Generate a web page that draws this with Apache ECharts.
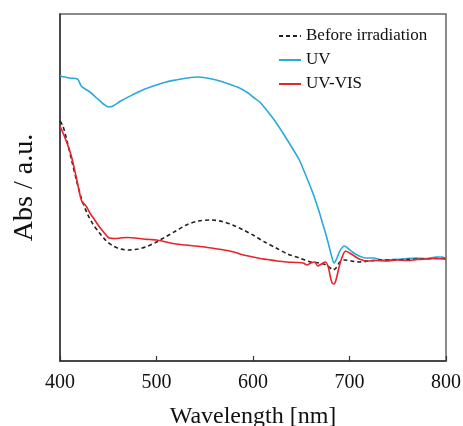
<!DOCTYPE html>
<html>
<head>
<meta charset="utf-8">
<script src="https://cdn.jsdelivr.net/npm/echarts@6/dist/echarts.min.js"></script>
<style>html,body{margin:0;padding:0;background:#fff}#c{width:463px;height:426px}</style>
</head>
<body>
<div id="c"></div>
<script>
const seriesNames = ['Before irradiation', 'UV', 'UV-VIS'];
const xTicks = [400, 500, 600, 700, 800];

const beforeNm = [400,403,407,412,417,422,428,434,441,448,455,463,472,481,490,500,510,520,531,543,557,568,579,590,600,612,624,636,648,660,669,676,680,683,686,690,695,702,710,720,731,745,760,775,790,800];
const beforeAbs = [240,235,221,201,181,163,148,137,128,120,115,112,111,112,114.5,119,124.5,130,136,140,141,139.5,136,131,126,119,113,107,103,99,98,96,93,91,93,99,101,100,99,100,101,101,101.5,102,102.5,102.5];

const uvNm = [400,410,418,420,422,426,431,438,445,450,455,463,475,488,500,510,520,532,543,552,562,575,586,595,600,607,614,622,631,640,648,655,662,668,672,676,679,682,684,687,690,693,695,698,703,710,717,725,734,745,755,769,780,790,796,800];
const uvAbs = [285,283,282,279,275,272,269,263,257,254,255,260,266,272,276,279,281,283,284,283,281,277,273,268,264,259,251,241,228,214,201,185,168,151,138,125,114,103,98,103,110,114,115,113,109,105,103,103,101,101.5,102,103,102.5,104,104,102.5];

const uvvisNm = [400,404,408,412,417,421,423,427,431,436,441,446,451,457,463,470,478,486,493,500,510,520,530,540,550,560,570,580,590,600,607,615,625,635,645,652,656,660,664,667,671,675,678,680,682,684,686,689,692,696,700,705,710,718,728,738,750,760,770,780,790,800];
const uvvisAbs = [235,226,216,204,183,165,159,155,148,141,134,128,123,122.5,123,123.5,123,122,121.5,121,119,117,116,115,114,112.5,111,109,106,104,102.5,101.5,100,99,98.5,98,96,98,99,95,97,99,94,85,78,77,81,93,103,110,108,105,102,100,100.5,100,101,100.5,101.5,102,102.5,102];

function zip(xs, ys) { return xs.map((x, i) => [x, ys[i]]); }

const font = "'Liberation Serif', 'Times New Roman', serif";
const chart = echarts.init(document.getElementById('c'), null, {renderer: 'canvas'});
chart.setOption({
  animation: false,
  backgroundColor: '#fff',
  grid: {left: 60, right: 17, top: 14, bottom: 65, outerBoundsMode: 'none', containLabel: false,
         show: true, borderColor: '#666', borderWidth: 1.5, backgroundColor: 'transparent'},
  legend: {
    orient: 'vertical', left: 273, top: 22,
    itemWidth: 22, itemHeight: 12, itemGap: 6,
    itemStyle: {opacity: 0},
    textStyle: {fontFamily: font, fontSize: 17, color: '#111', lineHeight: 18},
    data: seriesNames
  },
  xAxis: {
    type: 'value', min: xTicks[0], max: xTicks[xTicks.length - 1], interval: 100,
    name: 'Wavelength [nm]', nameLocation: 'middle', nameGap: 44,
    nameTextStyle: {fontFamily: font, fontSize: 24, color: '#111'},
    axisLine: {show: true, lineStyle: {color: '#333', width: 1.5}},
    axisTick: {show: true, inside: true, length: 5, lineStyle: {color: '#333', width: 1.2}},
    axisLabel: {fontFamily: font, fontSize: 20, color: '#111', margin: 12},
    splitLine: {show: false}
  },
  yAxis: {
    type: 'value', min: 0, max: 347,
    name: 'Abs / a.u.', nameLocation: 'middle', nameGap: 21, nameRotate: 90,
    nameTextStyle: {fontFamily: font, fontSize: 28, color: '#111'},
    axisLine: {show: true, lineStyle: {color: '#333', width: 1.5}},
    axisTick: {show: false}, axisLabel: {show: false}, splitLine: {show: false}
  },
  series: [
    {name: seriesNames[0], type: 'line', symbol: 'none', smooth: 0.3, data: zip(beforeNm, beforeAbs),
     lineStyle: {color: '#222', width: 1.6, type: [4, 3]}, itemStyle: {color: '#222'}, z: 3},
    {name: seriesNames[1], type: 'line', symbol: 'none', smooth: 0.3, data: zip(uvNm, uvAbs),
     lineStyle: {color: '#2aa9df', width: 1.6}, itemStyle: {color: '#2aa9df'}, z: 2},
    {name: seriesNames[2], type: 'line', symbol: 'none', smooth: 0.3, data: zip(uvvisNm, uvvisAbs),
     lineStyle: {color: '#e8232b', width: 1.6}, itemStyle: {color: '#e8232b'}, z: 4}
  ]
});
</script>
</body>
</html>
